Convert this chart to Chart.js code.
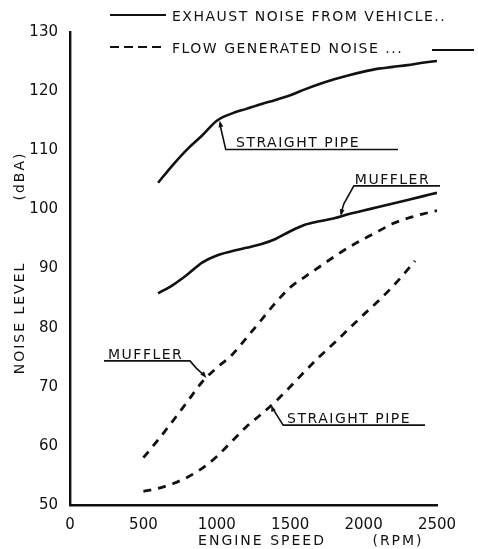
<!DOCTYPE html>
<html>
<head>
<meta charset="utf-8">
<script src="https://cdn.jsdelivr.net/npm/chart.js@4"></script>
<style>
  html, body { margin: 0; padding: 0; background: #fff; }
  #wrap { width: 478px; height: 549px; }
</style>
</head>
<body>
<div id="wrap"><canvas id="noiseChart" width="478" height="549"></canvas></div>
<script>
// engine speed (rpm) and noise level (dBA)
const exhaustRpm = [600, 700, 800, 900, 1000, 1100, 1200, 1300, 1400, 1500, 1600, 1700, 1800, 1900, 2000, 2100, 2200, 2300, 2400, 2500];
const exhaustStraight = [104.5, 107.5, 110.2, 112.5, 115.0, 116.2, 117.0, 117.8, 118.5, 119.3, 120.3, 121.2, 122.0, 122.7, 123.3, 123.8, 124.1, 124.4, 124.8, 125.1];
const exhaustMuffler = [85.8, 87.2, 89.0, 91.0, 92.2, 92.9, 93.5, 94.1, 95.0, 96.3, 97.4, 98.0, 98.5, 99.2, 99.8, 100.4, 101.0, 101.6, 102.2, 102.8];

const flowMufflerRpm = [500, 600, 700, 800, 900, 1000, 1100, 1200, 1300, 1400, 1500, 1600, 1700, 1800, 1900, 2000, 2100, 2200, 2300, 2400, 2500];
const flowMuffler = [58.0, 61.0, 64.2, 67.5, 70.8, 73.2, 75.3, 78.2, 81.2, 84.2, 86.8, 88.6, 90.3, 92.0, 93.6, 95.0, 96.3, 97.6, 98.5, 99.2, 99.8];

const flowStraightRpm = [500, 600, 700, 800, 900, 1000, 1100, 1200, 1300, 1400, 1500, 1600, 1700, 1800, 1900, 2000, 2100, 2200, 2300, 2350];
const flowStraight = [52.3, 52.8, 53.6, 54.7, 56.2, 58.2, 60.7, 63.2, 65.3, 67.5, 70.0, 72.6, 75.1, 77.4, 79.8, 82.2, 84.5, 87.0, 89.8, 91.3];

const rpmTicks = [0, 500, 1000, 1500, 2000, 2500];
const dbTicks = [50, 60, 70, 80, 90, 100, 110, 120, 130];

const legendLabels = ['EXHAUST NOISE FROM VEHICLE..', 'FLOW GENERATED NOISE ...'];
const yTitle = ['NOISE LEVEL', '(dBA)'];
const xTitle = ['ENGINE SPEED', '(RPM)'];

const INK = '#111';
const FONT = '"DejaVu Sans", sans-serif';

function pts(xs, ys) { return xs.map((x, i) => ({ x: x, y: ys[i] })); }

function line(ctx, coords) {
  ctx.beginPath();
  ctx.moveTo(coords[0][0], coords[0][1]);
  for (let i = 1; i < coords.length; i++) ctx.lineTo(coords[i][0], coords[i][1]);
  ctx.stroke();
}

function arrowHead(ctx, x, y, fromX, fromY) {
  const a = Math.atan2(y - fromY, x - fromX);
  ctx.beginPath();
  ctx.moveTo(x, y);
  ctx.lineTo(x - 7 * Math.cos(a - 0.35), y - 7 * Math.sin(a - 0.35));
  ctx.lineTo(x - 7 * Math.cos(a + 0.35), y - 7 * Math.sin(a + 0.35));
  ctx.closePath();
  ctx.fill();
}

// labels, leaders and legend drawn in the style of the old figure
const decorations = {
  id: 'decorations',
  afterDraw(chart) {
    const ctx = chart.ctx;
    const xs = chart.scales.x, ys = chart.scales.y;
    const px = v => xs.getPixelForValue(v), py = v => ys.getPixelForValue(v);
    ctx.save();
    ctx.strokeStyle = INK;
    ctx.fillStyle = INK;
    ctx.textBaseline = 'alphabetic';
    ctx.font = '14px ' + FONT;
    ctx.letterSpacing = '1.5px';

    // legend
    ctx.lineWidth = 2.2;
    line(ctx, [[110, 15], [166, 15]]);
    ctx.setLineDash([9, 5]);
    line(ctx, [[110, 47], [166, 47]]);
    ctx.setLineDash([]);
    ctx.fillText(legendLabels[0], 172, 21);
    ctx.fillText(legendLabels[1], 172, 53);
    line(ctx, [[432, 50], [474, 50]]);

    // upper STRAIGHT PIPE
    ctx.lineWidth = 1.6;
    let ax = px(1020), ay = py(115.2);
    line(ctx, [[ax, ay + 4], [ax + 6, ay + 30], [398, ay + 30]]);
    arrowHead(ctx, ax, ay + 1, ax + 2, ay + 12);
    ctx.fillText('STRAIGHT PIPE', 236, ay + 27);

    // upper MUFFLER
    ax = px(1845); ay = py(98.9);
    line(ctx, [[ax, ay - 2], [ax + 3, ay - 12], [ax + 13, ay - 30], [440, ay - 30]]);
    arrowHead(ctx, ax, ay, ax + 2, ay - 10);
    ctx.fillText('MUFFLER', ax + 14, ay - 32);

    // lower MUFFLER
    ax = px(930); ay = py(71.5);
    line(ctx, [[104, ay - 17], [190, ay - 17], [196, ay - 10], [ax - 3, ay - 3]]);
    arrowHead(ctx, ax, ay, ax - 8, ay - 9);
    ctx.fillText('MUFFLER', 108, ay - 19);

    // lower STRAIGHT PIPE
    ax = px(1370); ay = py(66.9);
    line(ctx, [[ax + 2, ay + 4], [ax + 12, ay + 20], [425, ay + 20]]);
    arrowHead(ctx, ax, ay, ax + 4, ay + 10);
    ctx.fillText('STRAIGHT PIPE', ax + 16, ay + 18);

    // axis titles
    ctx.letterSpacing = '2px';
    ctx.textAlign = 'center';
    ctx.fillText(xTitle[0], 262, 545);
    ctx.fillText(xTitle[1], 398, 545);
    ctx.save();
    ctx.translate(24, 0);
    ctx.rotate(-Math.PI / 2);
    ctx.fillText(yTitle[0], -318, 0);
    ctx.fillText(yTitle[1], -176, 0);
    ctx.restore();
    ctx.restore();
  }
};

function drawChart() {
  new Chart(document.getElementById('noiseChart'), {
    type: 'line',
    data: {
      datasets: [
        { data: pts(exhaustRpm, exhaustStraight), borderColor: INK, borderWidth: 2.6 },
        { data: pts(exhaustRpm, exhaustMuffler), borderColor: INK, borderWidth: 2.6 },
        { data: pts(flowMufflerRpm, flowMuffler), borderColor: INK, borderWidth: 2.8, borderDash: [8, 7] },
        { data: pts(flowStraightRpm, flowStraight), borderColor: INK, borderWidth: 2.8, borderDash: [8, 7] }
      ]
    },
    options: {
      responsive: false,
      animation: false,
      layout: { padding: { left: 0, right: 41, top: 32, bottom: 0 } },
      elements: {
        point: { radius: 0 },
        line: { tension: 0.4, cubicInterpolationMode: 'monotone', fill: false }
      },
      plugins: { legend: { display: false }, tooltip: { enabled: false } },
      scales: {
        x: {
          type: 'linear', min: 0, max: 2500,
          afterFit: s => { s.height = 44; },
          afterBuildTicks: s => { s.ticks = rpmTicks.map(v => ({ value: v })); },
          grid: { display: false },
          border: { display: true, color: INK, width: 2.4 },
          ticks: { color: INK, font: { family: FONT, size: 15 }, padding: 3, maxRotation: 0,
                   callback: v => String(v) }
        },
        y: {
          type: 'linear', min: 50, max: 130,
          afterFit: s => { s.width = 70; },
          afterBuildTicks: s => { s.ticks = dbTicks.map(v => ({ value: v })); },
          grid: { display: false },
          border: { display: true, color: INK, width: 2.4 },
          ticks: { color: INK, font: { family: FONT, size: 15 }, padding: 4,
                   callback: v => String(v) }
        }
      }
    },
    plugins: [decorations]
  });
}

window.addEventListener('DOMContentLoaded', drawChart);
</script>
</body>
</html>
